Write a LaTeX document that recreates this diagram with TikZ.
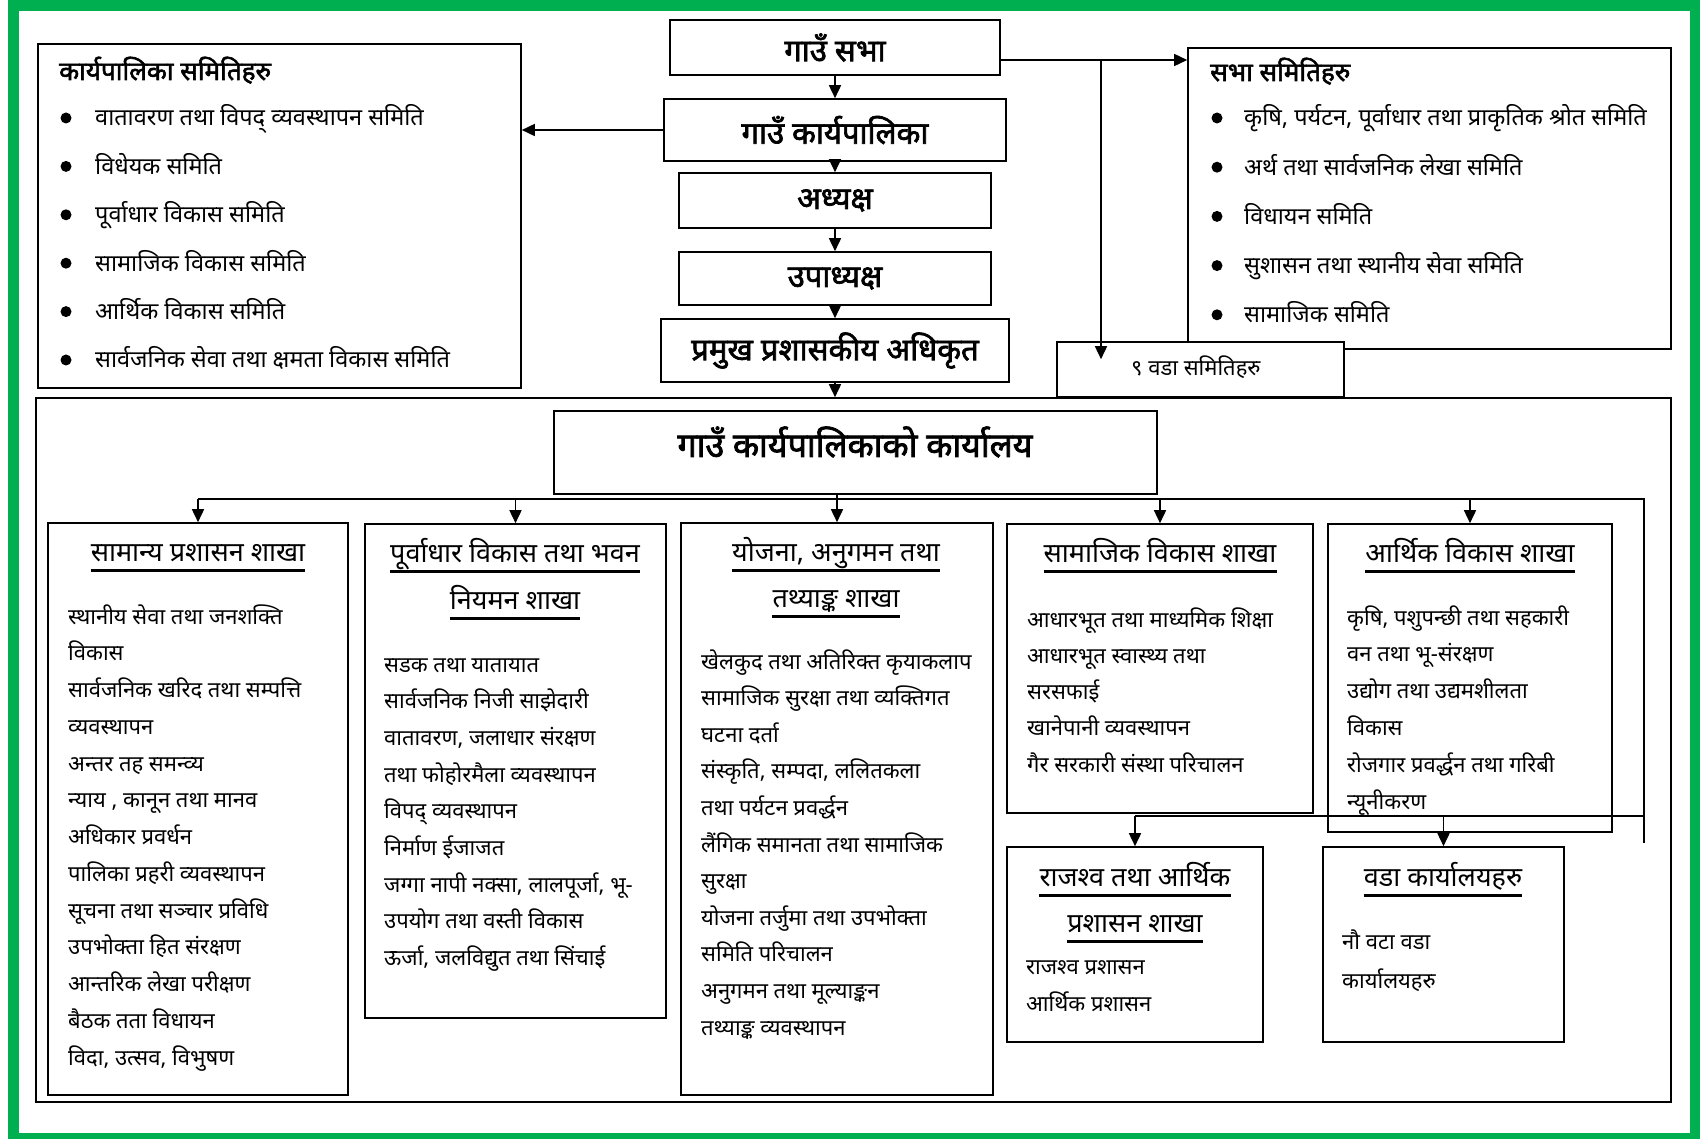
\documentclass[tikz,border=0pt]{standalone}
\usepackage{fontspec}
\setmainfont{Noto Sans}[Script=Devanagari]
\newfontfamily\devabold{Noto Sans}[Script=Devanagari,FakeBold=2.2]
\usetikzlibrary{arrows.meta,calc}
\definecolor{framegreen}{RGB}{0,176,80}

\begin{document}
\begin{tikzpicture}[x=1pt,y=1pt,yscale=-1,xscale=1,
  box/.style={draw, line width=1.6pt, fill=white, inner sep=0pt},
  ln/.style={line width=1.6pt},
  arr/.style={line width=1.6pt, -{Triangle[length=13pt,width=12pt]}},
  ul/.style={line width=3pt},
  toptxt/.style={font=\fontsize{31}{35}\devabold},
  headtxt/.style={font=\fontsize{26}{30}\devabold, anchor=base west, inner sep=0pt},
  bullettxt/.style={font=\fontsize{23.5}{28}\selectfont, anchor=base west, inner sep=0pt},
  itemtxt/.style={font=\fontsize{22}{26}\selectfont, anchor=base west, inner sep=0pt},
  branchtxt/.style={font=\fontsize{27}{32}\selectfont, anchor=base, inner sep=0pt}]
\useasboundingbox (0,0) rectangle (1700,1139);
\fill[white] (0,0) rectangle (1700,1139);
%Shape: Frame
\draw[framegreen, line width=11pt] (13.5,5.5) rectangle (1695.5,1138.5);

%Shape: Rectangle [karyapalika samiti]
\node[box, minimum width=483pt, minimum height=344pt] (kasam) at (279.5,216) {};
% Text Node
\node[headtxt] (kasamt) at (59,80) {कार्यपालिका समितिहरु};
\foreach \t [count=\i] in {{वातावरण तथा विपद् व्यवस्थापन समिति},{विधेयक समिति},{पूर्वाधार विकास समिति},{सामाजिक विकास समिति},{आर्थिक विकास समिति},{सार्वजनिक सेवा तथा क्षमता विकास  समिति}}{
  \fill (66,{118+48.4*(\i-1)}) circle (5.5pt);
  \node[bullettxt] (kasam\i) at (95,{126+48.4*(\i-1)}) {\t};
}

%Shape: Rectangle [sabha samiti]
\node[box, minimum width=483pt, minimum height=301pt] (sasam) at (1429.5,198.5) {};
% Text Node
\node[headtxt] (sasamt) at (1210,81) {सभा समितिहरु};
\foreach \t [count=\i] in {{कृषि, पर्यटन, पूर्वाधार तथा प्राकृतिक श्रोत समिति},{अर्थ तथा सार्वजनिक लेखा समिति},{विधायन समिति},{सुशासन तथा स्थानीय सेवा समिति},{सामाजिक समिति}}{
  \fill (1217,{118+49.2*(\i-1)}) circle (5.5pt);
  \node[bullettxt] (sasam\i) at (1244,{126+49.2*(\i-1)}) {\t};
}
%Shape: Rectangle [wada samiti]
\node[box, minimum width=287pt, minimum height=55pt] (wada) at (1200.5,369.5) {};
% Text Node
\node[itemtxt] (wadat) at (1131,376) {९ वडा समितिहरु};

%Shapes: main chain
\node[box, toptxt, minimum width=330pt, minimum height=55pt] (sabha) at (835,47.5) {गाउँ सभा};
\node[box, toptxt, minimum width=342pt, minimum height=62pt] (karya) at (835,130) {गाउँ कार्यपालिका};
\node[box, toptxt, minimum width=312pt, minimum height=55pt] (adhyaksha) at (835,200.5) {अध्यक्ष};
\node[box, toptxt, minimum width=312pt, minimum height=53pt] (upadhyaksha) at (835,278.5) {उपाध्यक्ष};
\node[box, toptxt, minimum width=348pt, minimum height=63pt] (pramukh) at (835,350.5) {प्रमुख प्रशासकीय अधिकृत};

%Straight Lines
\draw[arr] (sabha) -- (karya);
\draw[arr] (karya) -- (adhyaksha);
\draw[arr] (adhyaksha) -- (upadhyaksha);
\draw[arr] (upadhyaksha) -- (pramukh);
\draw[arr] (karya.west) -- (kasam.east |- karya.west);
\coordinate (sj) at (1101,60);
\draw[arr] (sabha.east |- sj) -- (sasam.west |- sj);
\draw[arr] (sj) -- ($(sj |- wada.north)+(0,18)$);

%Shape: Rectangle [office frame]
\node[box, fill=none, minimum width=1635pt, minimum height=704pt] (frame) at (853.5,750) {};
\draw[arr] (pramukh.south) -- (pramukh.south |- frame.north);
\node[box, minimum width=603pt, minimum height=83pt] (office) at (855.5,452.5) {};
% Text Node
\node[font=\fontsize{34}{38}\devabold, inner sep=0pt] (officet) at (855,442) {गाउँ कार्यपालिकाको कार्यालय};

%Shapes: branches
\node[box, minimum width=300pt, minimum height=572pt] (b1) at (198,809) {};
\node[box, minimum width=301pt, minimum height=494pt] (b2) at (515.5,771) {};
\node[box, minimum width=312pt, minimum height=572pt] (b3) at (837,809) {};
\node[box, minimum width=306pt, minimum height=289pt] (b4) at (1160,668.5) {};
\node[box, minimum width=284pt, minimum height=308pt] (b5) at (1470,678) {};
\node[box, minimum width=256pt, minimum height=195pt] (b6) at (1135,944.5) {};
\node[box, minimum width=241pt, minimum height=195pt] (b7) at (1443.5,944.5) {};

%Straight Lines [bus]
\coordinate (busl) at (198,499);
\coordinate (busr) at (1644,499);
\coordinate (buse) at (1644,843);
\draw[ln] (busl) -- (busr) -- (buse);
\draw[arr] (busl) -- (b1.north);
\draw[arr] (b2.north |- busl) -- (b2.north);
\draw[arr] (b3.north |- office.south) -- (b3.north);
\draw[arr] (b4.north |- busl) -- (b4.north);
\draw[arr] (b5.north |- busl) -- (b5.north);
\coordinate (bus2l) at (1135,816);
\draw[ln] (bus2l) -- (bus2l -| busr);
\draw[arr] (bus2l) -- (b6.north);
\draw[arr] (b7.north |- bus2l) -- (b7.north);

% Text Node [branch titles]
\node[branchtxt] (b1t) at (198,561) {सामान्य प्रशासन शाखा};
\node[branchtxt] (b2t) at (515,562) {पूर्वाधार विकास तथा भवन};
\node[branchtxt] (b2u) at (515,609) {नियमन शाखा};
\node[branchtxt] (b3t) at (836,561) {योजना, अनुगमन तथा};
\node[branchtxt] (b3u) at (836,607) {तथ्याङ्क शाखा};
\node[branchtxt] (b4t) at (1160,562) {सामाजिक विकास शाखा};
\node[branchtxt] (b5t) at (1470,562) {आर्थिक विकास शाखा};
\node[branchtxt] (b6t) at (1135,886) {राजश्व तथा आर्थिक};
\node[branchtxt] (b6u) at (1135,932) {प्रशासन शाखा};
\node[branchtxt] (b7t) at (1443,886) {वडा कार्यालयहरु};
\foreach \n in {b1t,b2t,b2u,b3t,b3u,b4t,b5t,b6t,b6u,b7t}
  \draw[ul] ($(\n.base west)+(0,9)$) -- ($(\n.base east)+(0,9)$);

% Text Node [branch items]
\foreach \t [count=\i] in {{स्थानीय सेवा तथा जनशक्ति},{विकास},{सार्वजनिक खरिद तथा सम्पत्ति},{व्यवस्थापन},{अन्तर तह समन्व्य},{न्याय , कानून तथा मानव},{अधिकार प्रवर्धन},{पालिका प्रहरी व्यवस्थापन},{सूचना तथा सञ्चार प्रविधि},{उपभोक्ता हित संरक्षण},{आन्तरिक लेखा परीक्षण},{बैठक तता विधायन},{विदा, उत्सव, विभुषण}}
  \node[itemtxt] (b1i\i) at (68,{624+36.75*(\i-1)}) {\t};
\foreach \t [count=\i] in {{सडक तथा यातायात},{सार्वजनिक निजी साझेदारी},{वातावरण, जलाधार संरक्षण},{तथा फोहोरमैला व्यवस्थापन},{विपद् व्यवस्थापन},{निर्माण ईजाजत},{जग्गा नापी नक्सा, लालपूर्जा, भू-},{उपयोग तथा वस्ती विकास},{ऊर्जा, जलविद्युत तथा सिंचाई}}
  \node[itemtxt] (b2i\i) at (384,{672+36.7*(\i-1)}) {\t};
\foreach \t [count=\i] in {{खेलकुद तथा अतिरिक्त कृयाकलाप},{सामाजिक सुरक्षा तथा व्यक्तिगत},{घटना दर्ता},{संस्कृति, सम्पदा, ललितकला},{तथा पर्यटन प्रवर्द्धन},{लैंगिक समानता तथा सामाजिक},{सुरक्षा},{योजना तर्जुमा तथा उपभोक्ता},{समिति परिचालन},{अनुगमन तथा मूल्याङ्कन},{तथ्याङ्क व्यवस्थापन}}
  \node[itemtxt] (b3i\i) at (701,{669+36.6*(\i-1)}) {\t};
\foreach \t [count=\i] in {{आधारभूत तथा माध्यमिक शिक्षा},{आधारभूत स्वास्थ्य तथा},{सरसफाई},{खानेपानी व्यवस्थापन},{गैर सरकारी संस्था परिचालन}}
  \node[itemtxt] (b4i\i) at (1027,{627+36.25*(\i-1)}) {\t};
\foreach \t [count=\i] in {{कृषि, पशुपन्छी तथा सहकारी},{वन तथा भू-संरक्षण},{उद्योग तथा उद्यमशीलता},{विकास},{रोजगार प्रवर्द्धन तथा गरिबी},{न्यूनीकरण}}
  \node[itemtxt] (b5i\i) at (1347,{625+36.8*(\i-1)}) {\t};
\foreach \t [count=\i] in {{राजश्व प्रशासन},{आर्थिक प्रशासन}}
  \node[itemtxt] (b6i\i) at (1026,{974+37*(\i-1)}) {\t};
\foreach \t [count=\i] in {{नौ वटा वडा},{कार्यालयहरु}}
  \node[itemtxt] (b7i\i) at (1342,{949+39*(\i-1)}) {\t};

\end{tikzpicture}
\end{document}
